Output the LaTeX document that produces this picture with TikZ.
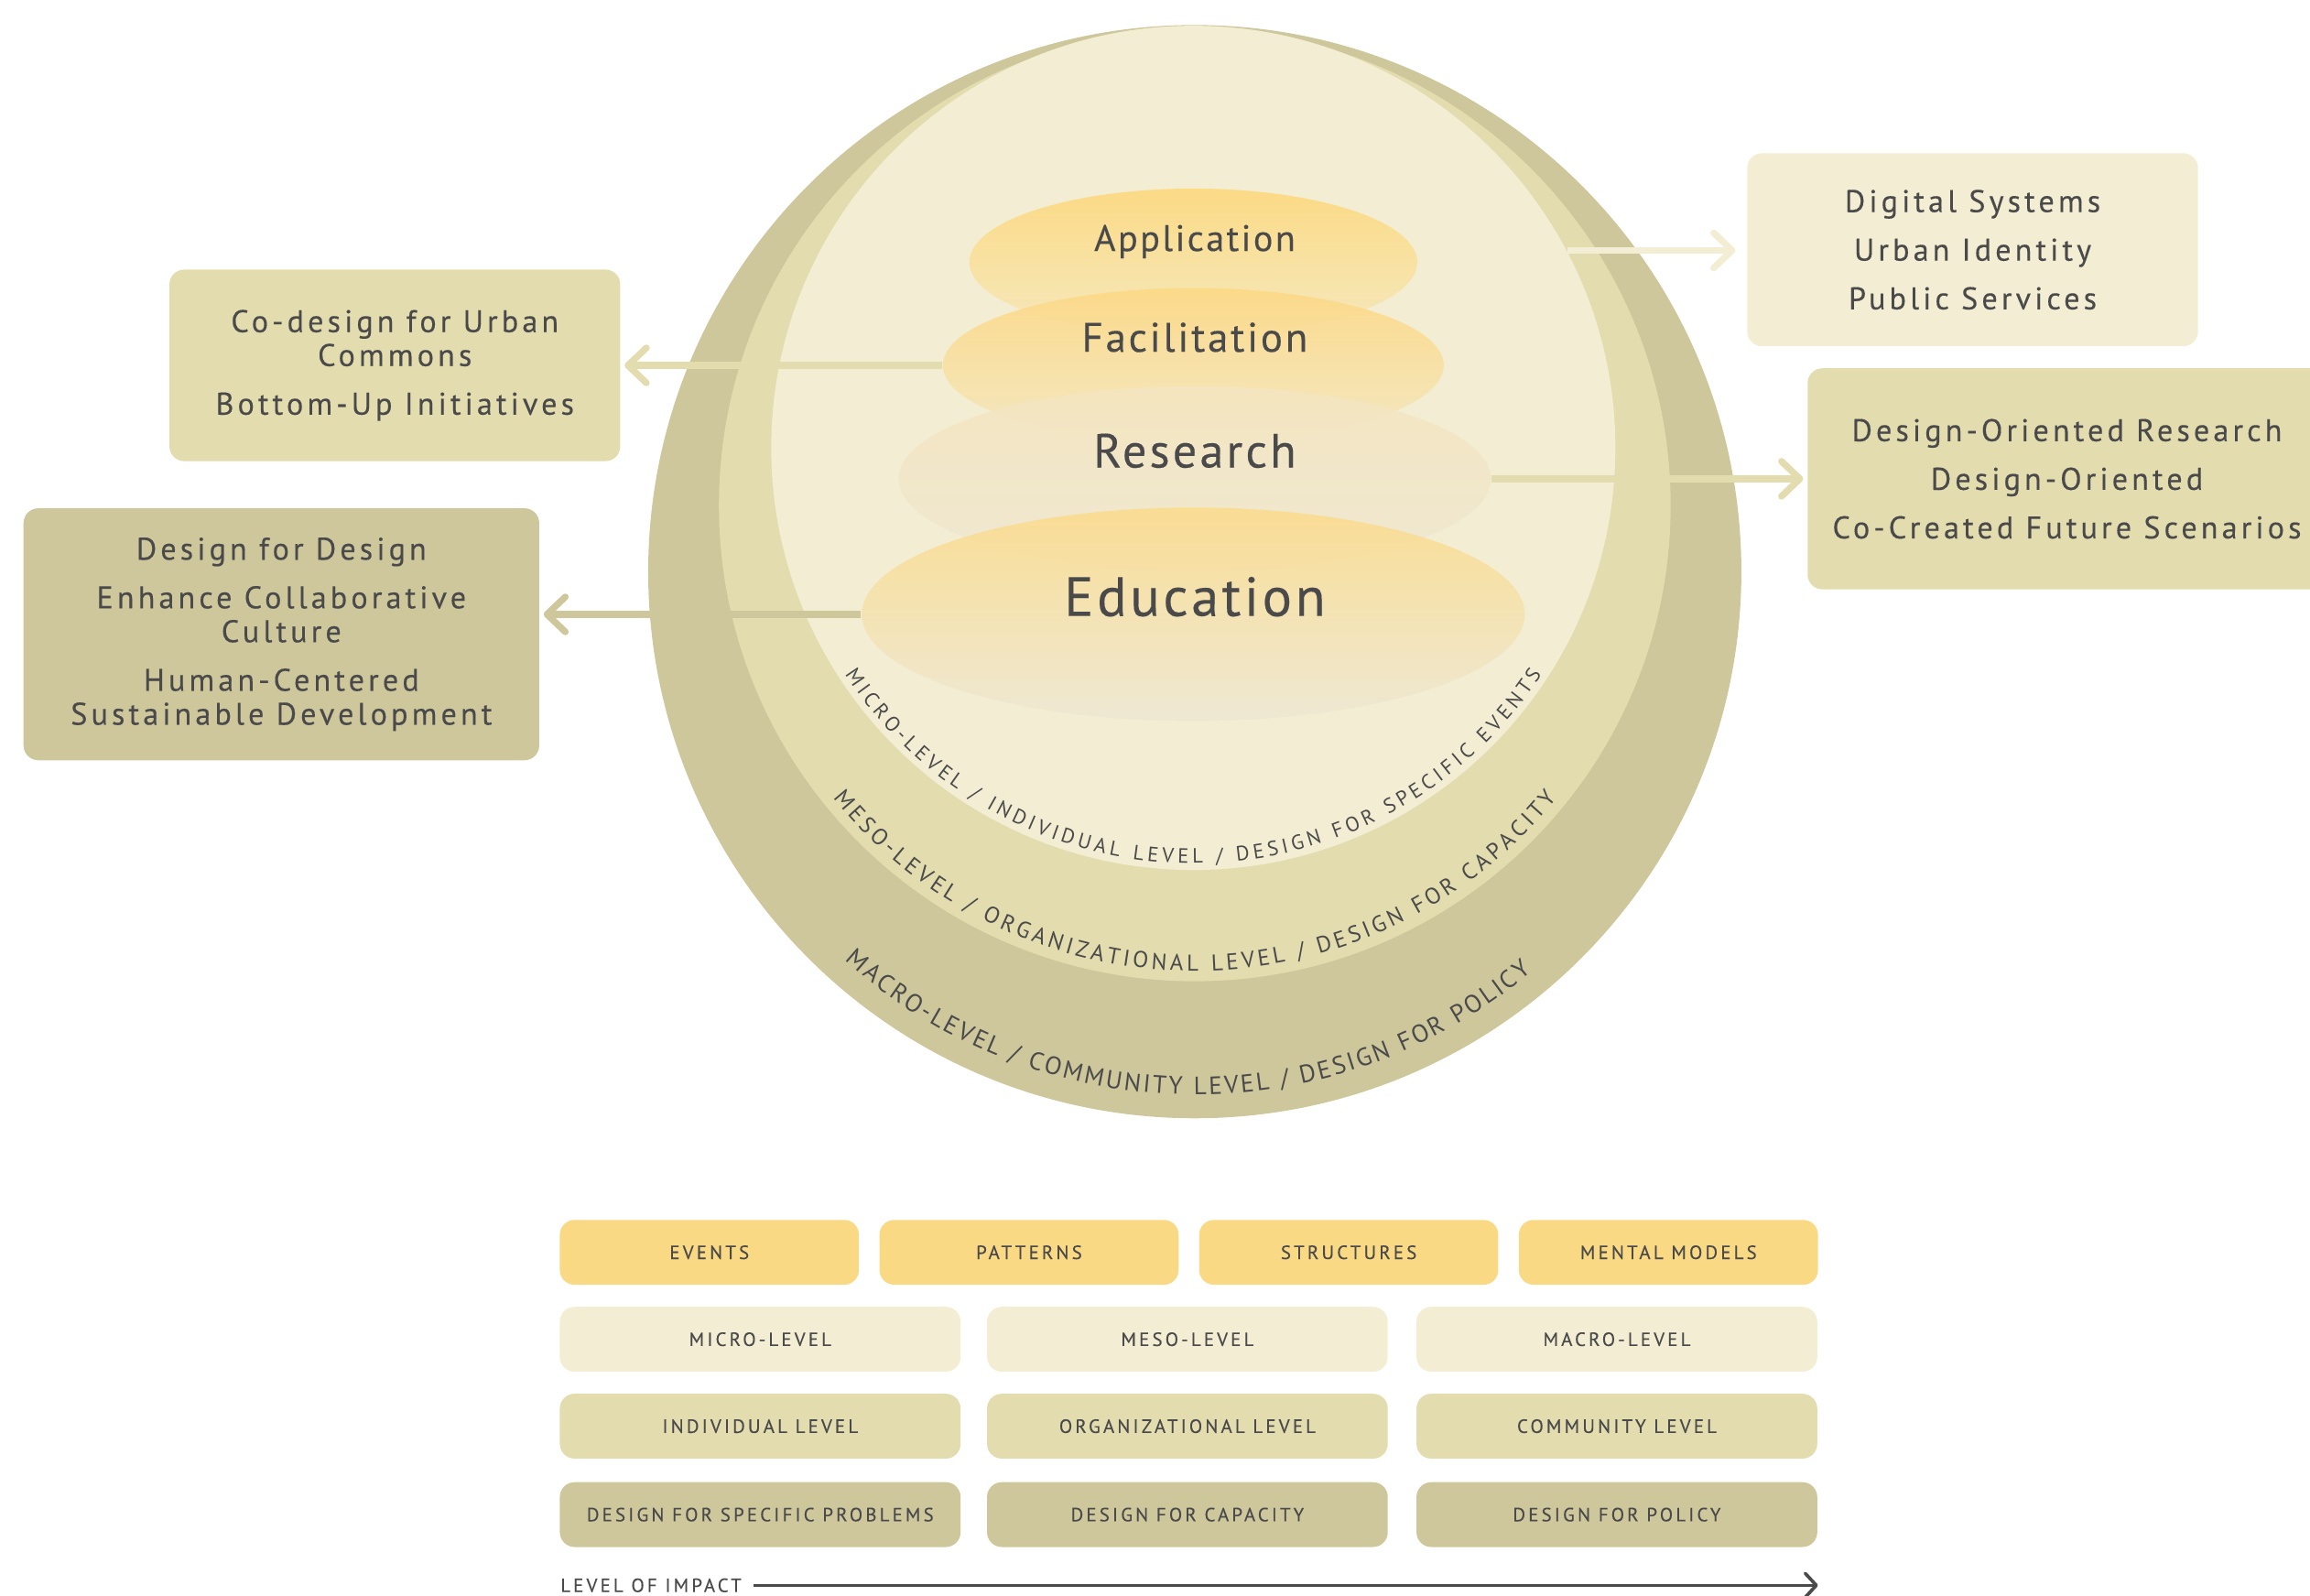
\documentclass[tikz,border=0pt]{standalone}
\usepackage{fontspec}
\setmainfont{PT Sans}
\newfontfamily\tf[LetterSpace=12,FakeBold=0.25]{PT Sans}
\newfontfamily\tfe[LetterSpace=6,FakeBold=0.25]{PT Sans}
\newfontfamily\tfw[LetterSpace=15,FakeBold=0.2]{PT Sans}
\newfontfamily\cf{PT Sans}
\newcommand\microfont{\cf\fontsize{5.6}{6}\selectfont}
\newcommand\mesofont{\cf\fontsize{6.2}{7}\selectfont}
\newcommand\macrofont{\cf\fontsize{6.8}{8}\selectfont}
\usetikzlibrary{arrows.meta,decorations.text,shapes.geometric}
\definecolor{ringdark}{HTML}{CEC79C}
\definecolor{ringmid}{HTML}{E3DCAE}
\definecolor{ringlight}{HTML}{F3EED3}
\definecolor{gold}{HTML}{FAD984}
\definecolor{txt}{HTML}{4A4A4A}
\definecolor{appTop}{HTML}{FCD97E}
\definecolor{appBot}{HTML}{F6E8BC}
\definecolor{facTop}{HTML}{FCD986}
\definecolor{facBot}{HTML}{F4E7C0}
\definecolor{resTop}{HTML}{F4E6C0}
\definecolor{resBot}{HTML}{EEE7D2}
\definecolor{eduTop}{HTML}{FBDC8E}
\definecolor{eduBot}{HTML}{EEE8D4}
\begin{document}
\begin{tikzpicture}[x=0.4pt,y=0.4pt,
  box/.style={rounded corners=4pt, inner sep=0pt, text=txt, align=center,
              font=\tf\fontsize{8.5}{9.2}\selectfont},
  cell/.style={rounded corners=4pt, minimum height=17.6pt, inner sep=0pt,
              text=txt, font=\tfw\fontsize{5.2}{6}\selectfont},
  conn/.style={line width=1.8pt, -{Straight Barb[round,length=5pt,width=9.5pt]}},
  blob/.style={ellipse, inner sep=0pt, fill opacity=0.9},
  lbl/.style={text=txt, inner sep=0pt},
  ring/.style={circle, inner sep=0pt},
  arctext/.style={decorate, decoration={text along path, text align={fit to path}}},
]
\useasboundingbox (0,0) rectangle (1568,-1083);
\clip (0,0) rectangle (1568,-1083);

% rings
\node[ring, fill=ringdark, minimum size=296.8pt] (outer) at (811,-388) {};
\node[ring, fill=ringmid, minimum size=258.4pt] (middle) at (811,-343) {};
\node[ring, fill=ringlight, minimum size=229.2pt] (inner) at (810,-304) {};

% ellipses
\node[blob, top color=appTop, bottom color=appBot, minimum width=121.6pt, minimum height=40pt] (app) at (810,-178) {};
\node[blob, top color=facTop, bottom color=facBot, minimum width=136pt, minimum height=42pt] (fac) at (810,-248) {};
\node[blob, top color=resTop, bottom color=resBot, minimum width=160.8pt, minimum height=50.4pt] (res) at (811,-325) {};
\node[blob, top color=eduTop, bottom color=eduBot, minimum width=180pt, minimum height=58pt] (edu) at (810,-417) {};

% labels
\node[lbl, font=\tfe\fontsize{10}{12}\selectfont] (appt) at (811,-164) {Application};
\node[lbl, font=\tfe\fontsize{11.2}{13}\selectfont] (fact) at (811,-229) {Facilitation};
\node[lbl, font=\tfe\fontsize{13}{15}\selectfont] (rest) at (811,-306) {Research};
\node[lbl, font=\tfe\fontsize{15}{17}\selectfont] (edut) at (811,-405) {Education};

% boxes
\node[box, fill=ringmid, minimum width=122.4pt, minimum height=52pt] (cobox) at (268,-248)
  {Co-design for Urban\\Commons\\[4pt]Bottom-Up Initiatives};
\node[box, fill=ringdark, minimum width=140pt, minimum height=68.4pt] (dfdbox) at (191,-430.5)
  {Design for Design\\[4pt]Enhance Collaborative\\Culture\\[4pt]Human-Centered\\Sustainable Development};
\node[box, fill=ringlight, minimum width=122.4pt, minimum height=52.4pt] (digbox) at (1339,-169.5)
  {Digital Systems\\[4pt]Urban Identity\\[4pt]Public Services};
\node[box, fill=ringmid, minimum width=140.8pt, minimum height=60pt] (dorbox) at (1403,-325)
  {Design-Oriented Research\\[4pt]Design-Oriented\\[4pt]Co-Created Future Scenarios};

% connectors
\coordinate (appstart) at (1064,-170);
\draw[conn, ringlight, shorten >=3pt] (appstart) -- (appstart -| digbox.west);
\draw[conn, ringmid, shorten >=1pt] (fac.west) -- (fac.west -| cobox.east);
\draw[conn, ringmid, shorten >=1pt] (res.east) -- (res.east -| dorbox.west);
\draw[conn, ringdark, shorten >=1pt] (edu.west) -- (edu.west -| dfdbox.east);

% curved level texts
\path[arctext, decoration={text={|\microfont\color{txt}|MICRO-LEVEL / INDIVIDUAL LEVEL / DESIGN FOR SPECIFIC EVENTS}}]
  (inner.center) ++(-147:282) arc[start angle=-147, end angle=-33, radius=282];
\path[arctext, decoration={text={|\mesofont\color{txt}|MESO-LEVEL / ORGANIZATIONAL LEVEL / DESIGN FOR CAPACITY}}]
  (middle.center) ++(-141:316) arc[start angle=-141, end angle=-39, radius=316];
\path[arctext, decoration={text={|\macrofont\color{txt}|MACRO-LEVEL / COMMUNITY LEVEL / DESIGN FOR POLICY}}]
  (outer.center) ++(-132:355) arc[start angle=-132, end angle=-50, radius=355];

% grid
\node[cell, fill=gold, minimum width=81.2pt] (ev) at (481.5,-850) {EVENTS};
\node[cell, fill=gold, minimum width=81.2pt] (pa) at (698.5,-850) {PATTERNS};
\node[cell, fill=gold, minimum width=81.2pt] (st) at (915.5,-850) {STRUCTURES};
\node[cell, fill=gold, minimum width=81.2pt] (mm) at (1132.5,-850) {MENTAL MODELS};
\node[cell, fill=ringlight, minimum width=108.8pt] (mi) at (516,-909) {MICRO-LEVEL};
\node[cell, fill=ringlight, minimum width=108.8pt] (me) at (806,-909) {MESO-LEVEL};
\node[cell, fill=ringlight, minimum width=108.8pt] (ma) at (1097.5,-909) {MACRO-LEVEL};
\node[cell, fill=ringmid, minimum width=108.8pt] (il) at (516,-968) {INDIVIDUAL LEVEL};
\node[cell, fill=ringmid, minimum width=108.8pt] (ol) at (806,-968) {ORGANIZATIONAL LEVEL};
\node[cell, fill=ringmid, minimum width=108.8pt] (cl) at (1097.5,-968) {COMMUNITY LEVEL};
\node[cell, fill=ringdark, minimum width=108.8pt] (dsp) at (516,-1028) {DESIGN FOR SPECIFIC PROBLEMS};
\node[cell, fill=ringdark, minimum width=108.8pt] (dca) at (806,-1028) {DESIGN FOR CAPACITY};
\node[cell, fill=ringdark, minimum width=108.8pt] (dpo) at (1097.5,-1028) {DESIGN FOR POLICY};

% level of impact
\node[lbl, anchor=west, font=\tfw\fontsize{5.2}{6}\selectfont] (imp) at (380,-1076) {LEVEL OF IMPACT};
\coordinate (impend) at (1234,-1076);
\draw[line width=0.9pt, txt, -{Straight Barb[round,length=3pt,width=6.5pt]}, shorten <=3pt] (imp.east) -- (impend);
\end{tikzpicture}
\end{document}
